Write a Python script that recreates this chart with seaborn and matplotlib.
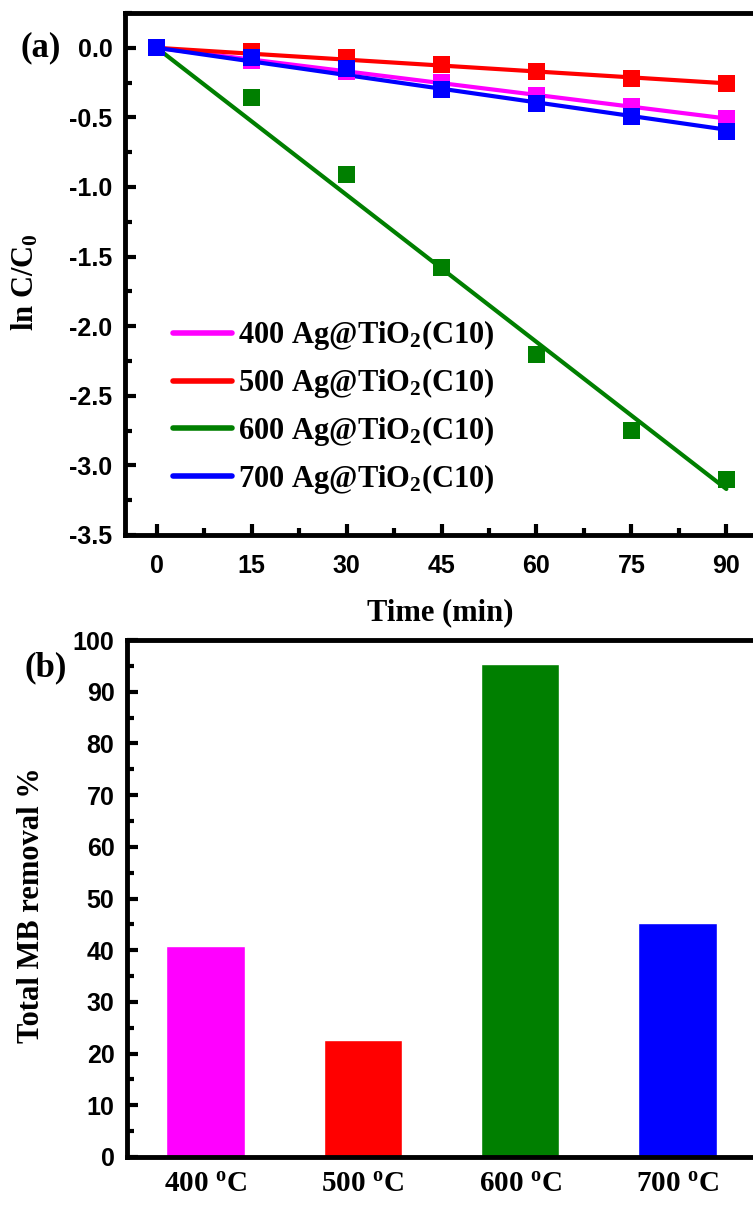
import numpy as np
import pandas as pd
import matplotlib
matplotlib.use("Agg")
import matplotlib.pyplot as plt
from matplotlib.ticker import MultipleLocator
from matplotlib.lines import Line2D
import seaborn as sns

# ---------------- data ----------------
time_min = [0, 15, 30, 45, 60, 75, 90]
series_names = ["400 Ag@TiO$_2$(C10)", "500 Ag@TiO$_2$(C10)",
                "600 Ag@TiO$_2$(C10)", "700 Ag@TiO$_2$(C10)"]
ln_400 = [0.0, -0.09, -0.17, -0.25, -0.34, -0.42, -0.51]
ln_500 = [0.0, -0.03, -0.07, -0.12, -0.17, -0.22, -0.26]
ln_600 = [0.0, -0.36, -0.91, -1.58, -2.20, -2.75, -3.10]
ln_700 = [0.0, -0.07, -0.15, -0.30, -0.40, -0.49, -0.60]
series_colors = ["#FF00FF", "#FF0000", "#007F00", "#0000FF"]

temp_labels = ["400 $^{o}$C", "500 $^{o}$C", "600 $^{o}$C", "700 $^{o}$C"]
removal_pct = [40.8, 22.7, 95.3, 45.2]

# ---------------- style ----------------
sns.set_style("ticks")
plt.rcParams['font.family'] = ['Liberation Sans', 'DejaVu Sans']
plt.rcParams['font.weight'] = 'bold'
plt.rcParams['mathtext.fontset'] = 'custom'
plt.rcParams['mathtext.rm'] = 'Liberation Serif:bold'
plt.rcParams['mathtext.it'] = 'Liberation Serif:bold'
plt.rcParams['mathtext.bf'] = 'Liberation Serif:bold'
plt.rcParams['axes.linewidth'] = 3.5
for key in ['text.color', 'axes.labelcolor', 'xtick.color', 'ytick.color',
            'axes.edgecolor']:
    plt.rcParams[key] = 'black'

serif = ['Liberation Serif', 'DejaVu Serif']

fig = plt.figure(figsize=(7.53, 12.05), dpi=100)
ax1 = fig.add_axes([125 / 753, 1 - 535 / 1205, 633 / 753, 522 / 1205])
ax2 = fig.add_axes([127 / 753, 1 - 1157 / 1205, 629 / 753, 517 / 1205])

# ---------------- panel (a) ----------------
all_series = [ln_400, ln_500, ln_600, ln_700]
rows = []
fit_rows = []
t = np.array(time_min, dtype=float)
for name, vals in zip(series_names, all_series):
    v = np.array(vals)
    k = np.sum(t * v) / np.sum(t * t)  # zero-intercept linear fit
    for ti, vi in zip(time_min, vals):
        rows.append({"Time": ti, "lnC": vi, "Sample": name})
    for ti in [time_min[0], time_min[-1]]:
        fit_rows.append({"Time": ti, "lnC": k * ti, "Sample": name})
df_pts = pd.DataFrame(rows)
df_fit = pd.DataFrame(fit_rows)
palette = dict(zip(series_names, series_colors))

sns.lineplot(data=df_fit, x="Time", y="lnC", hue="Sample", palette=palette,
             linewidth=3, ax=ax1, legend=False)
sns.scatterplot(data=df_pts, x="Time", y="lnC", hue="Sample", palette=palette,
                marker="s", s=150, linewidth=0, ax=ax1, legend=False, zorder=3)

ax1.set_xlim(-5, 95)
ax1.set_ylim(-3.5, 0.25)
ax1.xaxis.set_major_locator(MultipleLocator(15))
ax1.xaxis.set_minor_locator(MultipleLocator(7.5))
ax1.yaxis.set_major_locator(MultipleLocator(0.5))
ax1.yaxis.set_minor_locator(MultipleLocator(0.25))
ax1.yaxis.set_major_formatter(plt.FuncFormatter(lambda v, p: f"{v:.1f}"))
ax1.set_xlabel("Time (min)", family=serif, fontsize=22, fontweight='bold')
ax1.set_ylabel("ln C/C$_0$", family=serif, fontsize=22, fontweight='bold')
ax1.xaxis.set_label_coords((440 - 125) / 633, -(598 - 535) / 522)
ax1.yaxis.set_label_coords((40 - 125) / 633, (535 - 282) / 522)

handles = [Line2D([0], [0], color=c, lw=4) for c in series_colors]
leg = ax1.legend(handles, series_names, loc="upper left",
                 bbox_to_anchor=(145 / 753, 1 - 291 / 1205),
                 bbox_transform=fig.transFigure, frameon=False,
                 fontsize=22, handlelength=1.95, handletextpad=0.2,
                 labelspacing=0.45)
for txt in leg.get_texts():
    txt.set_family(serif)
    txt.set_fontweight('bold')

fig.text(20 / 753, 1 - 48 / 1205, "(a)", family=serif, fontsize=25,
         fontweight='bold', va='center', ha='left')

# ---------------- panel (b) ----------------
df_bar = pd.DataFrame({"Temp": temp_labels, "Removal": removal_pct})
sns.barplot(data=df_bar, x="Temp", y="Removal", hue="Temp",
            palette=dict(zip(temp_labels, series_colors)), width=0.5,
            ax=ax2, legend=False, saturation=1)
ax2.set_xlim(-0.5, 3.5)
ax2.set_ylim(0, 100)
ax2.yaxis.set_major_locator(MultipleLocator(10))
ax2.yaxis.set_minor_locator(MultipleLocator(5))
ax2.set_xlabel("")
ax2.set_ylabel("Total MB removal %", family=serif, fontsize=22, fontweight='bold')
ax2.yaxis.set_label_coords((46 - 127) / 629, (1157 - 905) / 517)

fig.text(25 / 753, 1 - 668 / 1205, "(b)", family=serif, fontsize=25,
         fontweight='bold', va='center', ha='left')

for ax in (ax1, ax2):
    for s in ax.spines.values():
        s.set_linewidth(3.5)
        s.set_color('black')
    ax.tick_params(which='major', direction='in', length=8, width=3,
                   labelsize=18, top=False, right=False, color='black',
                   labelcolor='black')
    ax.tick_params(which='minor', direction='in', length=5, width=3,
                   top=False, right=False, color='black')
ax1.tick_params(axis='y', which='major', pad=9)
ax2.tick_params(axis='y', which='major', pad=9)
ax1.tick_params(axis='x', which='major', pad=14)
ax2.tick_params(axis='x', which='both', length=0, pad=10)
for lab in ax1.get_xticklabels() + ax1.get_yticklabels() + ax2.get_yticklabels():
    lab.set_fontweight('bold')
for lab in ax2.get_xticklabels():
    lab.set_family(serif)
    lab.set_fontsize(21)
    lab.set_fontweight('bold')

fig.savefig("out.png", dpi=100)
